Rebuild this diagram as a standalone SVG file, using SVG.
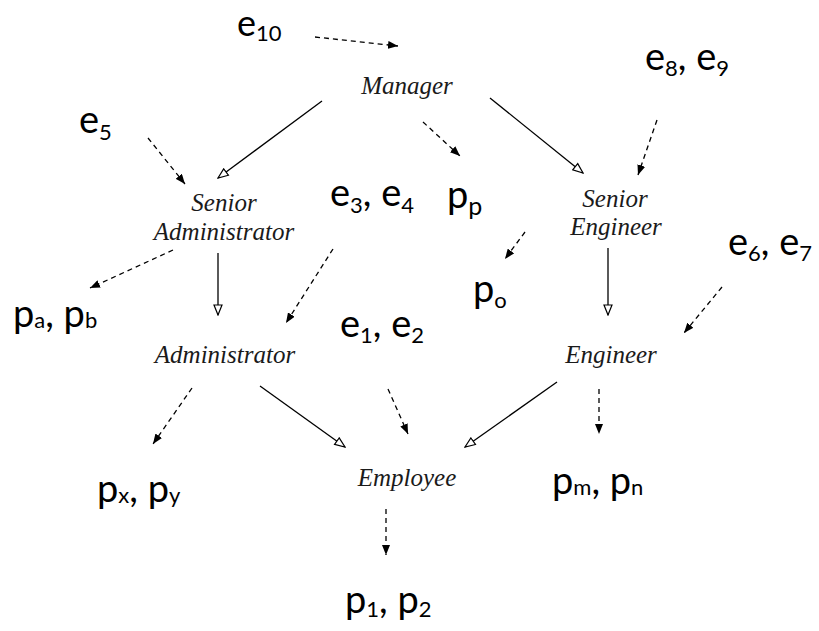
<svg xmlns="http://www.w3.org/2000/svg" width="819" height="631" viewBox="0 0 819 631">
<style>
.cls{font-family:"Liberation Serif","Times New Roman",serif;font-style:italic;font-size:25px;fill:#1a1a1a;text-anchor:middle}
.lbl{font-family:Lato,"Noto Sans",sans-serif;font-size:38px;fill:#000}
.sub{font-size:22px}
.gen{fill:none;stroke:#000;stroke-width:1.3;marker-end:url(#open)}
.dep{fill:none;stroke:#000;stroke-width:1.3;stroke-dasharray:5,4;marker-end:url(#filled)}
</style>
<defs>
<marker id="open" viewBox="0 0 12 10" refX="11" refY="5" markerWidth="12" markerHeight="10" markerUnits="userSpaceOnUse" orient="auto">
<path d="M1,1 L11,5 L1,9 Z" fill="#fff" stroke="#000" stroke-width="1.2"/>
</marker>
<marker id="filled" viewBox="0 0 10 8" refX="10" refY="4" markerWidth="10" markerHeight="8" markerUnits="userSpaceOnUse" orient="auto">
<path d="M0,0 L10,4 L0,8 Z" fill="#000"/>
</marker>
</defs>

<g id="connectors">
<line class="gen" x1="322" y1="101" x2="218" y2="178"/>
<line class="gen" x1="490" y1="98" x2="583" y2="173"/>
<line class="gen" x1="218" y1="253" x2="218" y2="315"/>
<line class="gen" x1="608" y1="248" x2="608" y2="315"/>
<line class="gen" x1="260" y1="386" x2="345" y2="447"/>
<line class="gen" x1="557" y1="382" x2="465" y2="447"/>

<line class="dep" x1="315" y1="37" x2="398" y2="46"/>
<line class="dep" x1="423" y1="122" x2="460" y2="156"/>
<line class="dep" x1="148" y1="138" x2="185" y2="184"/>
<line class="dep" x1="173" y1="250" x2="90" y2="288"/>
<line class="dep" x1="333" y1="249" x2="286" y2="323"/>
<line class="dep" x1="657" y1="120" x2="638" y2="175"/>
<line class="dep" x1="525" y1="232" x2="505" y2="259"/>
<line class="dep" x1="722" y1="287" x2="684" y2="333"/>
<line class="dep" x1="192" y1="388" x2="153" y2="444"/>
<line class="dep" x1="388" y1="389" x2="408" y2="434"/>
<line class="dep" x1="599" y1="389" x2="599" y2="434"/>
<line class="dep" x1="386" y1="509" x2="386" y2="555"/>
</g>

<g id="manager"><text class="cls" x="407" y="94">Manager</text></g>
<g id="senior-administrator"><text class="cls" x="224" y="211">Senior</text><text class="cls" x="224" y="240">Administrator</text></g>
<g id="senior-engineer"><text class="cls" x="615" y="207">Senior</text><text class="cls" x="616" y="235">Engineer</text></g>
<g id="administrator"><text class="cls" x="225" y="363">Administrator</text></g>
<g id="engineer"><text class="cls" x="611" y="363">Engineer</text></g>
<g id="employee"><text class="cls" x="407" y="486">Employee</text></g>

<g id="e10"><text class="lbl" x="237" y="36" style="font-size:36px">e<tspan class="sub" dy="5">10</tspan></text></g>
<g id="e8e9"><text class="lbl" x="645" y="70">e<tspan class="sub" dy="6">8</tspan><tspan dy="-6">, e</tspan><tspan class="sub" dy="6">9</tspan></text></g>
<g id="e5"><text class="lbl" x="79" y="133">e<tspan class="sub" dy="7">5</tspan></text></g>
<g id="e3e4"><text class="lbl" x="330" y="206">e<tspan class="sub" dy="7">3</tspan><tspan dy="-7">, e</tspan><tspan class="sub" dy="7">4</tspan></text></g>
<g id="pp"><text class="lbl" x="447" y="208">p<tspan class="sub" dy="7" style="font-size:25px">p</tspan></text></g>
<g id="po"><text class="lbl" x="473" y="302">p<tspan class="sub" dy="6">o</tspan></text></g>
<g id="e6e7"><text class="lbl" x="728" y="255">e<tspan class="sub" dy="6">6</tspan><tspan dy="-6">, e</tspan><tspan class="sub" dy="6">7</tspan></text></g>
<g id="papb"><text class="lbl" x="13" y="327">p<tspan class="sub" dy="1">a</tspan><tspan dy="-1">, p</tspan><tspan class="sub" dy="1">b</tspan></text></g>
<g id="e1e2"><text class="lbl" x="340" y="337">e<tspan class="sub" dy="6">1</tspan><tspan dy="-6">, e</tspan><tspan class="sub" dy="6">2</tspan></text></g>
<g id="pxpy"><text class="lbl" x="97" y="502">p<tspan class="sub" dy="1">x</tspan><tspan dy="-1">, p</tspan><tspan class="sub" dy="1">y</tspan></text></g>
<g id="pmpn"><text class="lbl" x="552" y="494">p<tspan class="sub" dy="1">m</tspan><tspan dy="-1">, p</tspan><tspan class="sub" dy="1">n</tspan></text></g>
<g id="p1p2"><text class="lbl" x="345" y="613">p<tspan class="sub" dy="4">1</tspan><tspan dy="-4">, p</tspan><tspan class="sub" dy="4">2</tspan></text></g>
</svg>
